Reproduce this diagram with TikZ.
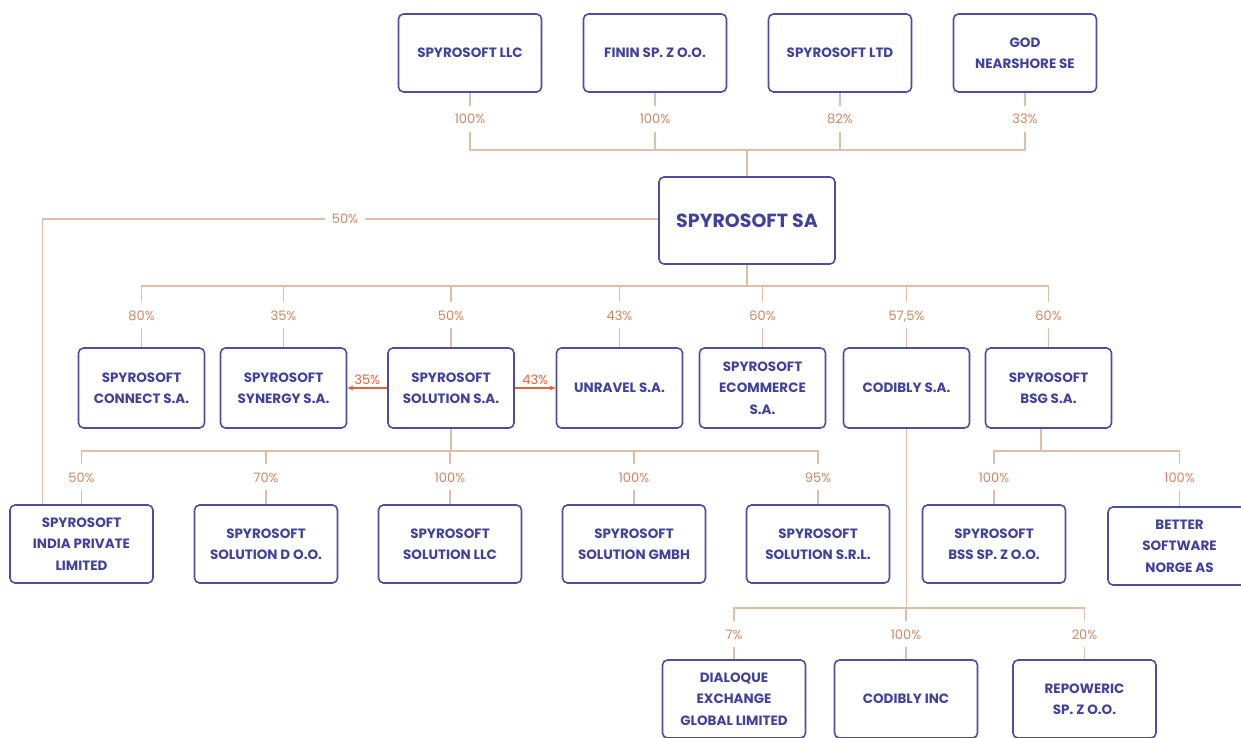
\documentclass[tikz,border=0pt]{standalone}
\usepackage{fontspec}
\setmainfont{Poppins}
\usetikzlibrary{arrows.meta,positioning,calc}

\definecolor{boxline}{RGB}{78,78,160}
\definecolor{boxtext}{RGB}{66,66,156}
\definecolor{linkc}{RGB}{221,190,166}
\definecolor{pctc}{RGB}{202,136,98}
\definecolor{ownc}{RGB}{224,100,58}

\begin{document}
\begin{tikzpicture}[x=1pt, y=1pt,
  company/.style={draw=boxline, line width=1.6pt, rounded corners=5pt, fill=white, align=center, text=boxtext, minimum width=143pt, minimum height=78pt, font=\bfseries\fontsize{13.5}{21.5}\selectfont},
  narrow/.style={company, minimum width=126pt, minimum height=80pt},
  parent/.style={company, minimum width=176pt, minimum height=87pt, font=\bfseries\fontsize{19}{22}\selectfont},
  pct/.style={text=pctc, font=\fontsize{13}{15}\selectfont, inner xsep=2pt, inner ysep=8pt, text height=9.5pt, text depth=0pt},
  link/.style={draw=linkc, line width=1.3pt},
  own/.style={draw=ownc, line width=1.3pt, -{Stealth[length=6pt, width=5pt]}},
  ownpct/.style={pct, text=ownc, inner ysep=3pt}
]
\useasboundingbox (0,0) rectangle (1241,-738);

% shareholders
\node[company] (llc) at (470,-53) {SPYROSOFT LLC};
\node[company] (finin) at (655,-53) {FININ SP. Z O.O.};
\node[company] (ltd) at (840,-53) {SPYROSOFT LTD};
\node[company] (god) at (1025,-53) {GOD\\NEARSHORE SE};

\node[pct, below=13pt of llc] (pllc) {100\%};
\node[pct, below=13pt of finin] (pfinin) {100\%};
\node[pct, below=13pt of ltd] (pltd) {82\%};
\node[pct, below=13pt of god] (pgod) {33\%};

\node[parent] (sa) at (747,-220.5) {SPYROSOFT SA};

% first level
\node[narrow] (connect) at (141.5,-388) {SPYROSOFT\\CONNECT S.A.};
\node[narrow] (synergy) at (283.5,-388) {SPYROSOFT\\SYNERGY S.A.};
\node[narrow] (solution) at (451,-388) {SPYROSOFT\\SOLUTION S.A.};
\node[narrow] (unravel) at (619.5,-388) {UNRAVEL S.A.};
\node[narrow] (ecom) at (762.5,-388) {SPYROSOFT\\ECOMMERCE\\S.A.};
\node[narrow] (codibly) at (906.5,-388) {CODIBLY S.A.};
\node[narrow] (bsg) at (1048.5,-388) {SPYROSOFT\\BSG S.A.};

\node[pct, above=19pt of connect] (pconnect) {80\%};
\node[pct, above=19pt of synergy] (psynergy) {35\%};
\node[pct, above=19pt of solution] (psolution) {50\%};
\node[pct, above=19pt of unravel] (punravel) {43\%};
\node[pct, above=19pt of ecom] (pecom) {60\%};
\node[pct, above=19pt of codibly] (pcodibly) {57,5\%};
\node[pct, above=19pt of bsg] (pbsg) {60\%};

% second level
\node[company] (india) at (81.5,-544) {SPYROSOFT\\INDIA PRIVATE\\LIMITED};
\node[company] (soldoo) at (266,-544) {SPYROSOFT\\SOLUTION D O.O.};
\node[company] (solllc) at (450,-544) {SPYROSOFT\\SOLUTION LLC};
\node[company] (solgmbh) at (634,-544) {SPYROSOFT\\SOLUTION GMBH};
\node[company] (solsrl) at (818,-544) {SPYROSOFT\\SOLUTION S.R.L.};
\node[company] (bss) at (994,-544) {SPYROSOFT\\BSS SP. Z O.O.};
\node[company] (better) at (1179.5,-546) {BETTER\\SOFTWARE\\NORGE AS};

\node[pct, above=14pt of india] (pindia) {50\%};
\node[pct, above=14pt of soldoo] (psoldoo) {70\%};
\node[pct, above=14pt of solllc] (psolllc) {100\%};
\node[pct, above=14pt of solgmbh] (psolgmbh) {100\%};
\node[pct, above=14pt of solsrl] (psolsrl) {95\%};
\node[pct, above=14pt of bss] (pbss) {100\%};
\node[pct, above=16pt of better] (pbetter) {100\%};

% codibly holdings
\node[company] (dialoque) at (734,-699) {DIALOQUE\\EXCHANGE\\GLOBAL LIMITED};
\node[company] (codinc) at (906,-699) {CODIBLY INC};
\node[company] (repoweric) at (1084.5,-699) {REPOWERIC\\SP. Z O.O.};

\node[pct, above=12pt of dialoque] (pdialoque) {7\%};
\node[pct, above=12pt of codinc] (pcodinc) {100\%};
\node[pct, above=12pt of repoweric] (prepoweric) {20\%};

% bus points
\coordinate (bustop) at (747,-150);
\coordinate (bussa) at (747,-286);
\coordinate (bussol) at (451,-451);
\coordinate (busbsg) at (1041,-451);
\coordinate (buscod) at (906.5,-608);

\draw[link] (llc) -- (pllc);
\draw[link] (finin) -- (pfinin);
\draw[link] (ltd) -- (pltd);
\draw[link] (god) -- (pgod);
\draw[link] (pllc) |- (bustop);
\draw[link] (pfinin) |- (bustop);
\draw[link] (pltd) |- (bustop);
\draw[link] (pgod) |- (bustop);
\draw[link] (bustop) -- (sa);

\node[pct, inner xsep=7pt] (psaindia) at (345,-219) {50\%};
\draw[link] (sa.west |- psaindia) -- (psaindia);
\draw[link] (psaindia) -| ($(india.north west)!0.23!(india.north east)$);

\draw[link] (sa) -- (bussa);
\draw[link] (pconnect) |- (bussa);
\draw[link] (psynergy) |- (bussa);
\draw[link] (psolution) |- (bussa);
\draw[link] (punravel) |- (bussa);
\draw[link] (pecom) |- (bussa);
\draw[link] (pcodibly) |- (bussa);
\draw[link] (pbsg) |- (bussa);
\draw[link] (pconnect) -- (connect);
\draw[link] (psynergy) -- (synergy);
\draw[link] (psolution) -- (solution);
\draw[link] (punravel) -- (unravel);
\draw[link] (pecom) -- (ecom);
\draw[link] (pcodibly) -- (codibly);
\draw[link] (pbsg) -- (bsg);

\draw[own] (solution) -- node[ownpct, above] (osynergy) {35\%} (synergy);
\draw[own] (solution) -- node[ownpct, above] (ounravel) {43\%} (unravel);

\draw[link] (solution) -- (bussol);
\draw[link] (pindia) |- (bussol);
\draw[link] (psoldoo) |- (bussol);
\draw[link] (psolllc) |- (bussol);
\draw[link] (psolgmbh) |- (bussol);
\draw[link] (psolsrl) |- (bussol);
\draw[link] (pindia) -- (india);
\draw[link] (psoldoo) -- (soldoo);
\draw[link] (psolllc) -- (solllc);
\draw[link] (psolgmbh) -- (solgmbh);
\draw[link] (psolsrl) -- (solsrl);

\draw[link] (bsg.south -| busbsg) -- (busbsg);
\draw[link] (pbss) |- (busbsg);
\draw[link] (pbetter) |- (busbsg);
\draw[link] (pbss) -- (bss);
\draw[link] (pbetter) -- (better);

\draw[link] (codibly) -- (buscod);
\draw[link] (pdialoque) |- (buscod);
\draw[link] (pcodinc) |- (buscod);
\draw[link] (prepoweric) |- (buscod);
\draw[link] (pdialoque) -- (dialoque);
\draw[link] (pcodinc) -- (codinc);
\draw[link] (prepoweric) -- (repoweric);

\end{tikzpicture}
\end{document}
